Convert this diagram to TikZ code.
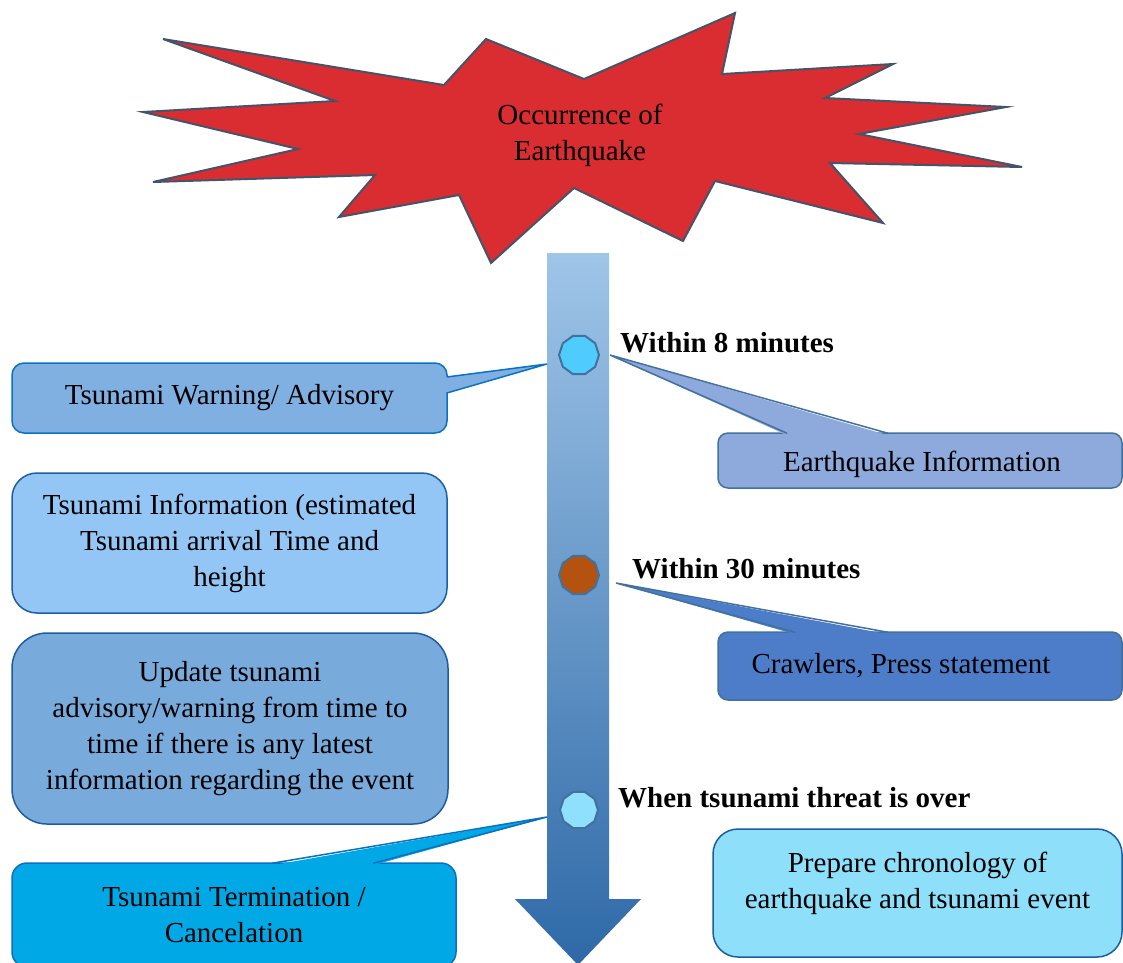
\documentclass[tikz,border=0pt]{standalone}
\usepackage{fontspec}
\setmainfont{Liberation Serif}
\usetikzlibrary{shapes.geometric,calc}

\definecolor{starfill}{HTML}{D92D31}
\definecolor{staredge}{HTML}{44546A}
\definecolor{shafttop}{HTML}{9FC5E8}
\definecolor{shaftbot}{HTML}{2E69A7}
\definecolor{dotedge}{HTML}{41719C}
\definecolor{dotA}{HTML}{4FCBFC}
\definecolor{dotB}{HTML}{B4520F}
\definecolor{dotC}{HTML}{8FE0FC}
\definecolor{warnfill}{HTML}{80B0E2}
\definecolor{warnedge}{HTML}{0A72C2}
\definecolor{infofill}{HTML}{94C6F5}
\definecolor{infoedge}{HTML}{1C5FA5}
\definecolor{updfill}{HTML}{79AADC}
\definecolor{updedge}{HTML}{1D5CA0}
\definecolor{termfill}{HTML}{00A9E6}
\definecolor{termedge}{HTML}{0C6FBF}
\definecolor{eqfill}{HTML}{8EAADC}
\definecolor{eqedge}{HTML}{41719C}
\definecolor{crawlfill}{HTML}{4D7CC8}
\definecolor{crawledge}{HTML}{41719C}
\definecolor{chronofill}{HTML}{8DDFFA}
\definecolor{chronoedge}{HTML}{1D5CA0}

\tikzset{
  bigtext/.style={font=\fontsize{29}{36}\selectfont},
  box/.style={draw, line width=1.5pt, bigtext, align=center, inner sep=0pt},
  dot/.style={regular polygon, regular polygon sides=10, draw=dotedge, line width=2pt, minimum size=40pt, inner sep=0pt},
  when/.style={anchor=base west, inner sep=0pt, font=\fontsize{29}{36}\selectfont\bfseries}
}

\begin{document}
\begin{tikzpicture}[x=1pt, y=-1pt]
\clip (0,0) rectangle (1123,962);
\fill[white] (0,0) rectangle (1123,962);

\filldraw[fill=starfill, draw=staredge, line width=2pt, line join=miter]
(163,39) -- (444,85) -- (486,39) -- (584,79) -- (735,13) -- (722,74)
-- (893,64) -- (825,98) -- (1006,107) -- (859,134) -- (1022,167) -- (830,163)
-- (883,223) -- (715,181) -- (683,241) -- (574,188) -- (491,263) -- (459,195)
-- (339,217) -- (375,175) -- (153,182) -- (298,149) -- (143,112) -- (335,101) -- cycle;
\node[bigtext, align=center, inner sep=0pt] (quake) at (580,135) {Occurrence of\\Earthquake};

\shade[top color=shafttop, bottom color=shaftbot]
(547,253) -- (609,253) -- (609,899) -- (641,899) -- (578,965) -- (515,899) -- (547,899) -- cycle;

\node[dot, fill=dotA] (eight) at (579,355) {};
\node[dot, fill=dotB] (thirty) at (579,575) {};
\node[dot, fill=dotC, minimum size=38pt] (over) at (579,810) {};

\node[when] (eightlbl) at (620,352) {Within 8 minutes};
\node[when] (thirtylbl) at (632,578) {Within 30 minutes};
\node[when] (overlbl) at (618,807) {When tsunami threat is over};

\node[box, fill=warnfill, draw=warnedge, rounded corners=12pt, minimum width=435pt, minimum height=70pt] (warn) at (229.5,398) {Tsunami Warning/ Advisory};
\node[box, fill=infofill, draw=infoedge, rounded corners=25pt, minimum width=435pt, minimum height=140pt] (info) at (229.5,543) {Tsunami Information (estimated\\Tsunami arrival Time and\\height};
\node[box, fill=updfill, draw=updedge, rounded corners=35pt, minimum width=436pt, minimum height=191pt] (update) at (230,728.5) {Update tsunami\\advisory/warning from time to\\time if there is any latest\\information regarding the event};
\node[box, fill=termfill, draw=termedge, rounded corners=15pt, minimum width=444pt, minimum height=104pt] (term) at (234,915) {Tsunami Termination /\\Cancelation};
\node[box, fill=eqfill, draw=eqedge, rounded corners=10pt, minimum width=404pt, minimum height=55pt] (eqinfo) at (920,460.5) {};
\node[bigtext, inner sep=0pt] (eqtext) at (922,464) {Earthquake Information};
\node[box, fill=crawlfill, draw=crawledge, rounded corners=10pt, minimum width=404pt, minimum height=68pt] (crawl) at (920,666) {\hspace*{-38pt}Crawlers, Press statement};
\node[box, fill=chronofill, draw=chronoedge, rounded corners=25pt, minimum width=409pt, minimum height=128pt] (chrono) at (917.5,893) {};
\node[bigtext, align=center, inner sep=0pt] (chronotext) at (917.5,883.5) {Prepare chronology of\\earthquake and tsunami event};

\coordinate (warntip) at ($(eight.center)+(-32,9)$);
\coordinate (eqtip) at ($(eight.center)+(31,0)$);
\coordinate (crawltip) at ($(thirty.center)+(37,8)$);
\coordinate (termtip) at ($(over.center)+(-32,7)$);

\fill[warnfill] (warntip) -- ($(warn.east)+(-3,-21)$) -- ($(warn.east)+(-3,-5)$) -- cycle;
\draw[warnedge, line width=1.5pt] ($(warn.east)+(-1,-21)$) -- (warntip) -- ($(warn.east)+(-1,-5)$);

\fill[eqfill] (eqtip) -- ($(eqinfo.north)+(-133,3)$) -- ($(eqinfo.north)+(-32,3)$) -- cycle;
\draw[eqedge, line width=1.5pt] ($(eqinfo.north)+(-133,1)$) -- (eqtip) -- ($(eqinfo.north)+(-32,1)$);

\fill[crawlfill] (crawltip) -- ($(crawl.north)+(-125,3)$) -- ($(crawl.north)+(-32,3)$) -- cycle;
\draw[crawledge, line width=1.5pt] ($(crawl.north)+(-125,1)$) -- (crawltip) -- ($(crawl.north)+(-32,1)$);

\fill[termfill] (termtip) -- ($(term.north)+(38,3)$) -- ($(term.north)+(139,3)$) -- cycle;
\draw[termedge, line width=1.5pt] ($(term.north)+(38,1)$) -- (termtip) -- ($(term.north)+(139,1)$);

\end{tikzpicture}
\end{document}
